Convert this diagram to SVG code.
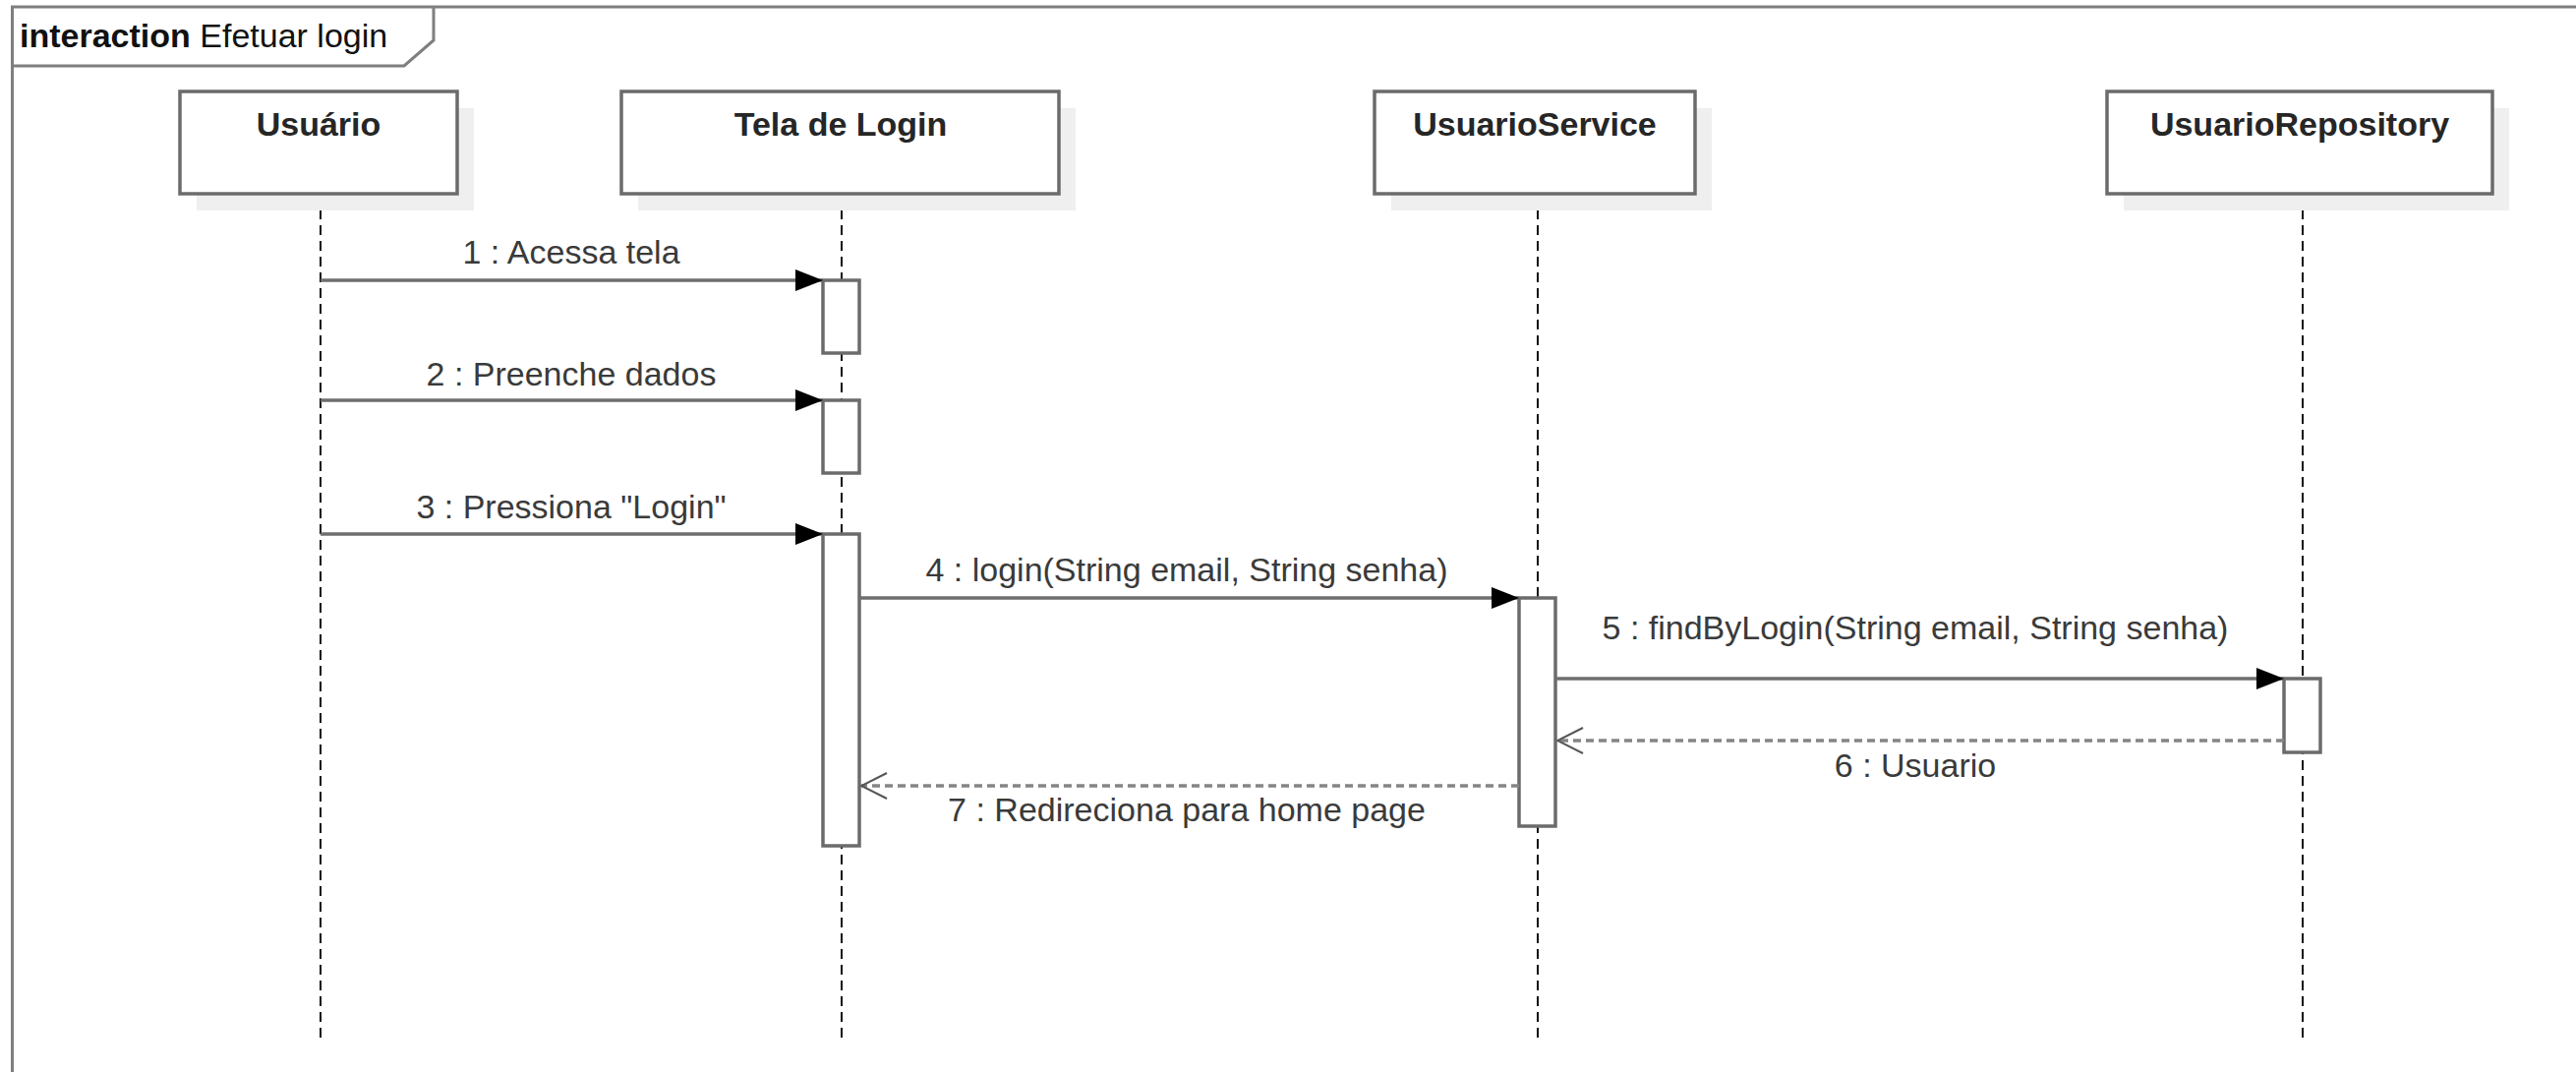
<svg xmlns="http://www.w3.org/2000/svg" width="2620" height="1090" viewBox="0 0 2620 1090">
<defs>
<style>
text{font-family:"Liberation Sans",Arial,sans-serif;font-size:34px;fill:#3a3a3a}
.title{fill:#111}
.lbl{font-weight:bold;fill:#262626;text-anchor:middle}
.msgl{text-anchor:middle}
.frame{fill:none;stroke:#7f7f7f;stroke-width:3}
.box{fill:#fff;stroke:#6b6b6b;stroke-width:3.5}
.shadow{fill:#efefef}
.life{stroke:#111;stroke-width:2;stroke-dasharray:10 6;fill:none}
.act{fill:#fff;stroke:#6b6b6b;stroke-width:3.5}
.msg{stroke:#6e6e6e;stroke-width:3.5;fill:none;marker-end:url(#filled)}
.ret{stroke:#858585;stroke-width:3.5;stroke-dasharray:8 5;fill:none;marker-end:url(#open)}
</style>
<marker id="filled" markerUnits="userSpaceOnUse" markerWidth="28" markerHeight="24" viewBox="0 0 28 24" refX="28" refY="12" orient="auto">
<path d="M0,1 L28,12 L0,23 Z" fill="#000"/>
</marker>
<marker id="open" markerUnits="userSpaceOnUse" markerWidth="30" markerHeight="30" viewBox="0 0 30 30" refX="28" refY="15" orient="auto">
<path d="M2,2 L28,15 L2,28" fill="none" stroke="#555" stroke-width="2"/>
</marker>
</defs>
<rect width="2620" height="1090" fill="#fff"/>
<g id="frame">
<path class="frame" d="M12.5,1095 V7 H2625"/>
<path class="frame" d="M12.5,67 H411 L441,41 V7"/>
<text class="title" x="20" y="48"><tspan font-weight="bold">interaction</tspan> Efetuar login</text>
</g>
<g id="lifelines">
<line class="life" x1="326" y1="197" x2="326" y2="1056"/>
<line class="life" x1="856" y1="197" x2="856" y2="1056"/>
<line class="life" x1="1564" y1="197" x2="1564" y2="1056"/>
<line class="life" x1="2342" y1="197" x2="2342" y2="1056"/>
</g>
<g id="usuario">
<rect class="shadow" x="200" y="110" width="282" height="104"/>
<rect class="box" x="183" y="93" width="282" height="104"/>
<text class="lbl" x="324" y="138">Usuário</text>
</g>
<g id="tela-login">
<rect class="shadow" x="649" y="110" width="445" height="104"/>
<rect class="box" x="632" y="93" width="445" height="104"/>
<text class="lbl" x="855" y="138">Tela de Login</text>
</g>
<g id="usuario-service">
<rect class="shadow" x="1415" y="110" width="326" height="104"/>
<rect class="box" x="1398" y="93" width="326" height="104"/>
<text class="lbl" x="1561" y="138">UsuarioService</text>
</g>
<g id="usuario-repository">
<rect class="shadow" x="2160" y="110" width="392" height="104"/>
<rect class="box" x="2143" y="93" width="392" height="104"/>
<text class="lbl" x="2339" y="138">UsuarioRepository</text>
</g>
<g id="activations">
<rect class="act" x="837" y="285" width="37" height="74"/>
<rect class="act" x="837" y="407" width="37" height="74"/>
<rect class="act" x="837" y="543" width="37" height="317"/>
<rect class="act" x="1545" y="608" width="37" height="232"/>
<rect class="act" x="2323" y="690" width="37" height="75"/>
</g>
<g id="connectors">
<line class="msg" x1="326" y1="285" x2="837" y2="285"/>
<line class="msg" x1="326" y1="407" x2="837" y2="407"/>
<line class="msg" x1="326" y1="543" x2="837" y2="543"/>
<line class="msg" x1="874" y1="608" x2="1545" y2="608"/>
<line class="msg" x1="1582" y1="690" x2="2323" y2="690"/>
<line class="ret" x1="2323" y1="753" x2="1584" y2="753"/>
<line class="ret" x1="1545" y1="799" x2="876" y2="799"/>
<text class="msgl" x="581" y="268">1 : Acessa tela</text>
<text class="msgl" x="581" y="392">2 : Preenche dados</text>
<text class="msgl" x="581" y="527">3 : Pressiona "Login"</text>
<text class="msgl" x="1207" y="591">4 : login(String email, String senha)</text>
<text class="msgl" x="1948" y="650">5 : findByLogin(String email, String senha)</text>
<text class="msgl" x="1948" y="790">6 : Usuario</text>
<text class="msgl" x="1207" y="835">7 : Redireciona para home page</text>
</g>
</svg>
